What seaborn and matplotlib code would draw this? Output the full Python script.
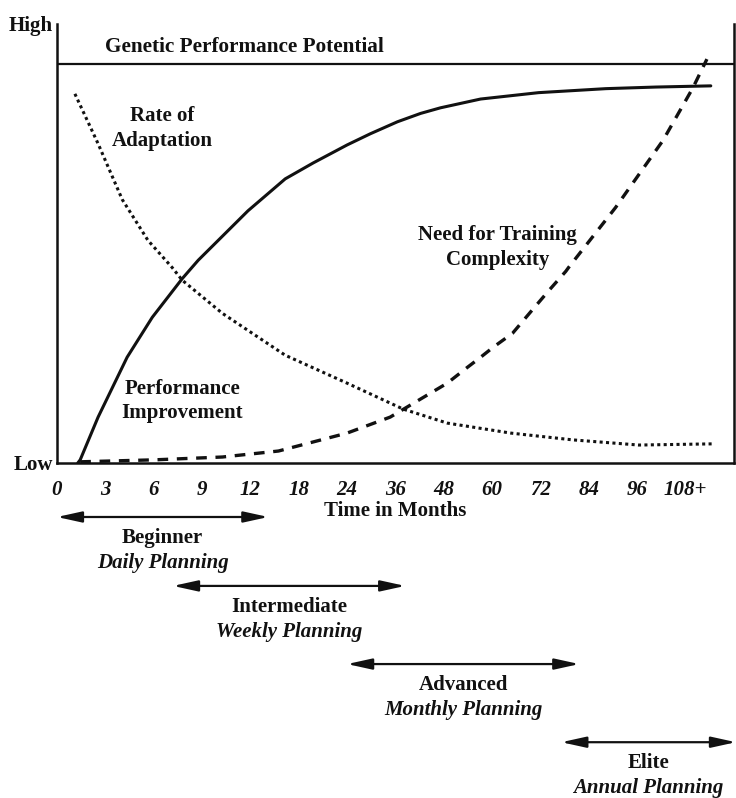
import numpy as np
import pandas as pd
import seaborn as sns
import matplotlib.pyplot as plt

# Tick labels of the time axis (evenly spaced categories)
time_labels = ["0", "3", "6", "9", "12", "18", "24", "36", "48", "60", "72", "84", "96", "108+"]

# Curves, x = category position, y = 0 (Low) .. 1 (genetic potential)
perf_x = [0.43, 0.48, 0.85, 1.45, 1.97, 2.59, 2.92, 3.95, 4.72, 5.30, 6.00, 6.48, 7.04, 7.52,
          7.93, 8.76, 9.96, 11.35, 12.38, 13.52]
perf_y = [0.0, 0.008, 0.115, 0.265, 0.365, 0.462, 0.508, 0.632, 0.712, 0.752, 0.797, 0.825, 0.855, 0.876,
          0.89, 0.912, 0.928, 0.938, 0.942, 0.945]

adapt_x = [0.37, 0.85, 1.35, 1.88, 2.38, 2.59, 3.42, 4.72, 6.00, 7.16, 8.07, 9.38, 10.66, 12.03, 13.58]
adapt_y = [0.925, 0.80, 0.66, 0.558, 0.49, 0.458, 0.375, 0.27, 0.20, 0.135, 0.10, 0.075, 0.058, 0.045, 0.048]

complex_x = [0.48, 2.03, 3.42, 4.58, 6.00, 6.89, 8.07, 8.49, 8.76, 9.02, 9.42, 9.79, 10.17, 10.52,
             10.58, 11.55, 12.53, 13.15, 13.44]
complex_y = [0.003, 0.008, 0.015, 0.03, 0.075, 0.115, 0.20, 0.24, 0.265, 0.29, 0.325, 0.378, 0.432, 0.48,
             0.49, 0.64, 0.808, 0.94, 1.012]

genetic_potential = 1.0

# Training stages and the span of months they cover (category positions)
stage_names = ["Beginner", "Intermediate", "Advanced", "Elite"]
stage_plans = ["Daily Planning", "Weekly Planning", "Monthly Planning", "Annual Planning"]
stage_start = [0.0, 2.40, 6.0, 10.43]
stage_end = [4.37, 7.20, 10.8, 14.04]

sns.set_style("white")
plt.rcParams["font.family"] = ["Liberation Serif", "DejaVu Serif"]
plt.rcParams["font.weight"] = "bold"

ink = "#111111"
fig = plt.figure(figsize=(7.36, 7.98), dpi=100)
ax = fig.add_axes([57 / 736, 1 - 463 / 798, 677 / 736, 439 / 798])

sns.lineplot(x=perf_x, y=perf_y, ax=ax, color=ink, lw=2.2, sort=False)
sns.lineplot(x=adapt_x, y=adapt_y, ax=ax, color=ink, lw=2.2, linestyle=(0, (1, 1.1)), sort=False)
sns.lineplot(x=complex_x, y=complex_y, ax=ax, color=ink, lw=2.4, linestyle=(0, (3.2, 2.6)), sort=False)
ax.axhline(genetic_potential, color=ink, lw=1.6)

ax.set_xlim(0, 14)
ax.set_ylim(0, 1.1)
for side in ["left", "bottom", "right"]:
    ax.spines[side].set_visible(True)
    ax.spines[side].set_color(ink)
    ax.spines[side].set_linewidth(1.8)
ax.spines["top"].set_visible(False)

ax.set_xticks(range(len(time_labels)))
ax.set_xticklabels(time_labels, fontsize=15, fontstyle="italic", fontweight="bold", color=ink)
ax.tick_params(axis="x", direction="inout", length=10, width=1.6, color=ink, pad=7)
ax.set_yticks([0, 1.1])
ax.set_yticklabels(["Low", "High"], fontsize=15, fontweight="bold", color=ink)
ax.tick_params(axis="y", length=0, pad=3)

ax.text(0.99, 1.043, "Genetic Performance Potential", fontsize=15.3, fontweight="bold",
        color=ink, ha="left", va="center")
ax.text(2.17, 0.838, "Rate of\nAdaptation", fontsize=15, fontweight="bold",
        color=ink, ha="center", va="center", linespacing=1.3)
ax.text(2.59, 0.155, "Performance\nImprovement", fontsize=15, fontweight="bold",
        color=ink, ha="center", va="center", linespacing=1.3)
ax.text(9.11, 0.54, "Need for Training\nComplexity", fontsize=15, fontweight="bold",
        color=ink, ha="center", va="center", linespacing=1.3)

ax.text(7.0, -0.11, "Time in Months", transform=ax.get_xaxis_transform(),
        fontsize=15, fontweight="bold", color=ink, ha="center", va="center")

# stage arrows under the axis
trans = ax.get_xaxis_transform()
arrow_rows = [-0.123, -0.280, -0.458, -0.636]
for name, plan, x0, x1, yf in zip(stage_names, stage_plans, stage_start, stage_end, arrow_rows):
    ax.annotate("", xy=(x1, yf), xytext=(x0, yf), xycoords=trans, textcoords=trans,
                annotation_clip=False,
                arrowprops=dict(arrowstyle="<|-|>,head_length=1.5,head_width=0.33",
                                mutation_scale=10, color=ink, lw=1.6,
                                shrinkA=0, shrinkB=0))
    xc = (x0 + x1) / 2
    ax.text(xc, yf - 0.048, name, transform=trans, fontsize=15, fontweight="bold",
            color=ink, ha="center", va="center")
    ax.text(xc, yf - 0.105, plan, transform=trans, fontsize=15, fontweight="bold",
            fontstyle="italic", color=ink, ha="center", va="center")

fig.savefig("out.png", dpi=100)
